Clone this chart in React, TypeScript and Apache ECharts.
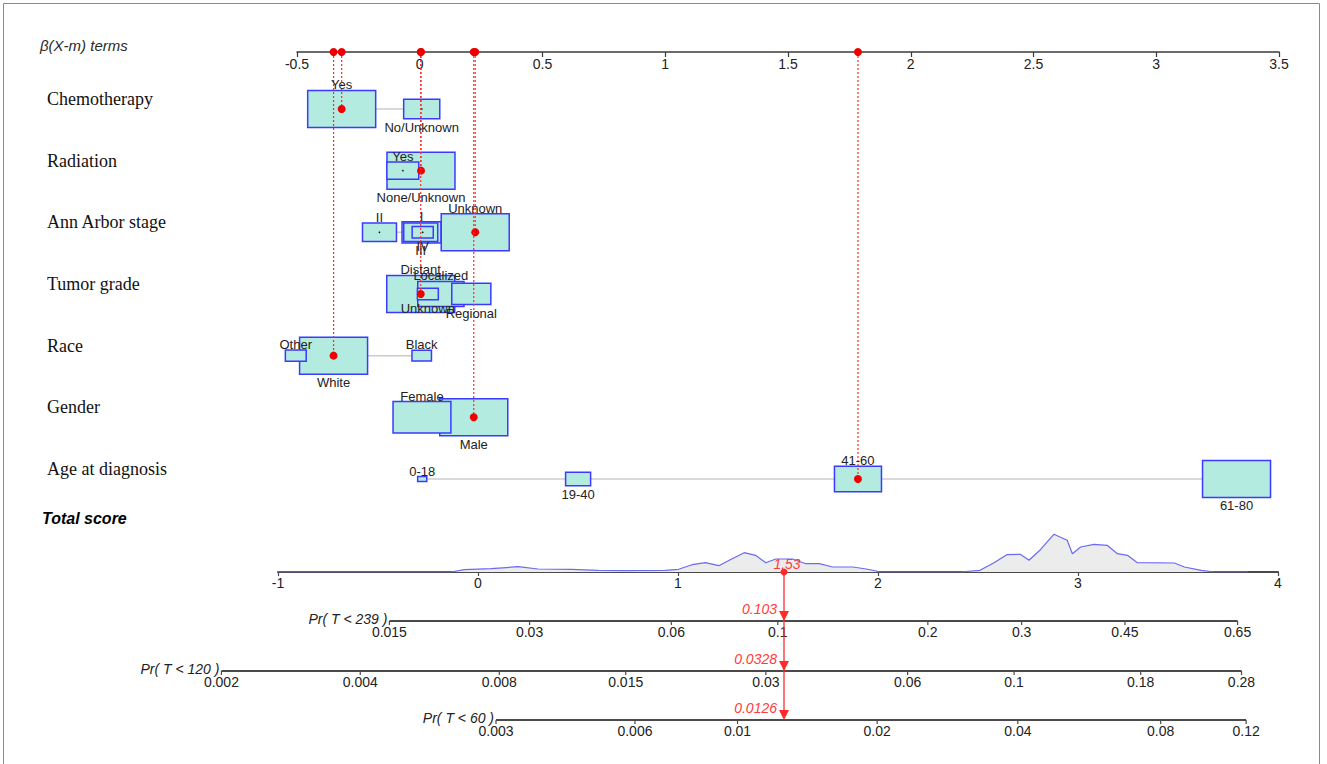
import React, { useEffect, useRef } from "react";
import * as echarts from "echarts";

// ---------------- data ----------------
const rowNames = ["Chemotherapy", "Radiation", "Ann Arbor stage", "Tumor grade", "Race", "Gender", "Age at diagnosis"];

const chemoLevels = ["Yes", "No/Unknown"];
const chemoBeta = [-0.318, 0.008];
const chemoFreq = [78, 22];

const radiationLevels = ["Yes", "None/Unknown"];
const radiationBeta = [-0.069, 0.005];
const radiationFreq = [18, 82];

const stageLevels = ["I", "II", "III", "IV", "Unknown"];
const stageBeta = [0.007, -0.164, 0.004, 0.012, 0.226];
const stageFreq = [17, 13, 13, 5, 52];

const gradeLevels = ["Distant", "Localized", "Regional", "Unknown"];
const gradeBeta = [0.004, 0.086, 0.21, 0.033];
const gradeFreq = [53, 24.5, 17.5, 5];

const raceLevels = ["Black", "Other", "White"];
const raceBeta = [0.008, -0.505, -0.351];
const raceFreq = [7, 8, 85];

const genderLevels = ["Female", "Male"];
const genderBeta = [0.009, 0.22];
const genderFreq = [42, 58];

const ageLevels = ["0-18", "19-40", "41-60", "61-80"];
const ageBeta = [0.01, 0.645, 1.785, 3.327];
const ageFreq = [1.1, 8.3, 29.3, 61.3];

const selectedLevels = ["Yes", "None/Unknown", "Unknown", "Distant", "White", "Male", "41-60"];

const totalScore = 1.53;

const densityScore = [-1.057, -0.704, -0.135, -0.068, 0.066, 0.2, 0.3, 0.467, 0.6, 0.735, 0.936, 1.003, 1.07, 1.137, 1.204, 1.271, 1.331, 1.388, 1.439, 1.489, 1.572, 1.64, 1.706, 1.774, 1.874, 1.941, 1.991, 2.008, 2.376, 2.41, 2.51, 2.578, 2.644, 2.711, 2.755, 2.812, 2.879, 2.946, 2.972, 3.013, 3.08, 3.146, 3.197, 3.247, 3.297, 3.482, 3.532, 3.616, 3.683, 3.85];
const densityHeight = [0, 0, 0, 2.3, 3.3, 5.3, 3, 2.7, 1.7, 1.3, 1.7, 2.7, 7.3, 9.3, 6.3, 13.3, 19.3, 16.7, 9.3, 13, 13, 8.3, 8.3, 5, 5, 3, 1, 0, 0, 0, 1.7, 9, 17.3, 17.7, 11.7, 22.3, 37.7, 31.7, 18.3, 25, 27.7, 26.7, 18.3, 16.7, 9.3, 9, 5, 1.7, 0, 0];

const probTimes = [239, 120, 60];
const probAtScore = [0.103, 0.0328, 0.0126];
const probTicks239 = [0.015, 0.03, 0.06, 0.1, 0.2, 0.3, 0.45, 0.65];
const probTicks120 = [0.002, 0.004, 0.008, 0.015, 0.03, 0.06, 0.1, 0.18, 0.28];
const probTicks60 = [0.003, 0.006, 0.01, 0.02, 0.04, 0.08, 0.12];

// ---------------- layout / style ----------------
const SANS = "'Liberation Sans', Arial, sans-serif";
const SERIF = "'Liberation Serif', 'Times New Roman', serif";
const Y_MIN = -0.924;
const Y_MAX = 6.665;
const BOX_W = 68;
const BOX_H = 37;
const PR_OFFSETS = [49, 99, 148];
const RED = "#ff2a2a";

const rows = [
  { levels: chemoLevels, beta: chemoBeta, freq: chemoFreq },
  { levels: radiationLevels, beta: radiationBeta, freq: radiationFreq },
  { levels: stageLevels, beta: stageBeta, freq: stageFreq },
  { levels: gradeLevels, beta: gradeBeta, freq: gradeFreq },
  { levels: raceLevels, beta: raceBeta, freq: raceFreq },
  { levels: genderLevels, beta: genderBeta, freq: genderFreq },
  { levels: ageLevels, beta: ageBeta, freq: ageFreq },
];

type Box = { row: number; beta: number; w: number; h: number; label: string; above: boolean; freq: number };
const boxes: Box[] = [];
rows.forEach((r, ri) => {
  const maxF = Math.max(...r.freq);
  const order = r.beta.map((b, i) => i).sort((a, b) => r.beta[a] - r.beta[b]);
  const rank: number[] = [];
  order.forEach((idx, k) => (rank[idx] = k));
  const list: Box[] = r.levels.map((lv, i) => {
    const s = Math.sqrt(r.freq[i] / maxF);
    return { row: ri, beta: r.beta[i], w: BOX_W * s, h: BOX_H * s, label: lv, above: rank[i] % 2 === 0, freq: r.freq[i] };
  });
  list.sort((a, b) => b.freq - a.freq);
  boxes.push(...list);
});

const selected = rows.map((r, ri) => {
  const i = r.levels.indexOf(selectedLevels[ri]);
  return { row: ri, beta: r.beta[i] };
});

const probTickSets = [probTicks239, probTicks120, probTicks60];
const probAxes = probTimes.map((tm, k) => {
  const H0 = -Math.log(1 - probAtScore[k]) / Math.exp(totalScore);
  const toScore = (p: number) => Math.log(-Math.log(1 - p) / H0);
  return { title: `Pr( T < ${tm} )`, ticks: probTickSets[k], scores: probTickSets[k].map(toScore) };
});

function buildOption(): any {
  return {
    animation: false,
    backgroundColor: "#ffffff",
    grid: [
      { left: 297, top: 52, width: 982, height: 468, containLabel: false, outerBoundsMode: "none" },
      { left: 278, top: 532, width: 1000, height: 40, containLabel: false, outerBoundsMode: "none" },
    ],
    xAxis: [
      {
        gridIndex: 0, type: "value", position: "top", min: -0.5, max: 3.5, interval: 0.5,
        axisLine: { show: true, onZero: false, lineStyle: { color: "#3a3a3a", width: 1.5 } },
        axisTick: { show: true, inside: true, length: 5, lineStyle: { color: "#3a3a3a", width: 1.2 } },
        axisLabel: { inside: true, margin: 5, fontSize: 14, fontFamily: SANS, color: "#222", showMinLabel: true, showMaxLabel: true },
        splitLine: { show: false },
      },
      {
        gridIndex: 1, type: "value", position: "bottom", min: -1, max: 4, interval: 1,
        axisLine: { show: true, onZero: false, lineStyle: { color: "#4a4a4a", width: 2 } },
        axisTick: { show: true, length: 4, lineStyle: { color: "#4a4a4a", width: 1.2 } },
        axisLabel: { margin: 4, fontSize: 14, fontFamily: SANS, color: "#222", showMinLabel: true, showMaxLabel: true },
        splitLine: { show: false },
      },
    ],
    yAxis: [
      { gridIndex: 0, type: "value", min: Y_MIN, max: Y_MAX, inverse: true, show: false },
      { gridIndex: 1, type: "value", min: 0, max: 40, show: false },
    ],
    graphic: [
      { type: "rect", silent: true, shape: { x: 3.5, y: 3.5, width: 1316, height: 800 }, style: { fill: "transparent", stroke: "#8a8a8a", lineWidth: 1 } },
      { type: "text", x: 40, y: 45, style: { text: "β(X-m) terms", fontSize: 15, fontStyle: "italic", fontFamily: SANS, fill: "#2a2a2a", verticalAlign: "middle" } },
      { type: "text", x: 42, y: 518, style: { text: "Total score", fontSize: 16, fontStyle: "italic", fontWeight: "bold", fontFamily: SANS, fill: "#000", verticalAlign: "middle" } },
    ],
    series: [
      // row labels
      {
        type: "custom", xAxisIndex: 0, yAxisIndex: 0, clip: false, z: 2,
        data: rowNames.map((n, i) => [-0.5, i]),
        renderItem: (params: any, api: any) => {
          const c = api.coord([-0.5, params.dataIndex]);
          return { type: "text", style: { text: rowNames[params.dataIndex], x: 47, y: c[1] - 10, fontSize: 18, fontFamily: SERIF, fill: "#111", verticalAlign: "middle", align: "left" } };
        },
      },
      // connectors
      {
        type: "custom", xAxisIndex: 0, yAxisIndex: 0, clip: false, z: 2,
        data: rows.map((r, i) => [Math.min(...r.beta), i]),
        renderItem: (params: any, api: any) => {
          const r = rows[params.dataIndex];
          const a = api.coord([Math.min(...r.beta), params.dataIndex]);
          const b = api.coord([Math.max(...r.beta), params.dataIndex]);
          return { type: "line", shape: { x1: a[0], y1: a[1], x2: b[0], y2: b[1] }, style: { stroke: "#cccccc", lineWidth: 1.5 } };
        },
      },
      // boxes
      {
        type: "custom", xAxisIndex: 0, yAxisIndex: 0, clip: false, z: 3,
        data: boxes.map((b) => [b.beta, b.row]),
        renderItem: (params: any, api: any) => {
          const b = boxes[params.dataIndex];
          const c = api.coord([b.beta, b.row]);
          return {
            type: "group",
            children: [
              { type: "rect", shape: { x: c[0] - b.w / 2, y: c[1] - b.h / 2, width: b.w, height: b.h }, style: { fill: "#b3ebe0", stroke: "#3b3bff", lineWidth: 1.5 } },
              { type: "circle", shape: { cx: c[0], cy: c[1], r: 0.8 }, style: { fill: "#000" } },
            ],
          };
        },
      },
      // dotted red lines + dots
      {
        type: "custom", xAxisIndex: 0, yAxisIndex: 0, clip: false, z: 4,
        data: selected.map((s) => [s.beta, s.row]),
        renderItem: (params: any, api: any) => {
          const s = selected[params.dataIndex];
          const top = api.coord([s.beta, Y_MIN]);
          const c = api.coord([s.beta, s.row]);
          return {
            type: "group",
            children: [
              { type: "line", shape: { x1: top[0], y1: top[1], x2: c[0], y2: c[1] }, style: { stroke: RED, lineWidth: 1.2, lineDash: [2, 2] } },
              { type: "circle", shape: { cx: c[0], cy: c[1], r: 4 }, style: { fill: "#ee0000" } },
              { type: "circle", shape: { cx: top[0], cy: top[1], r: 4 }, style: { fill: "#ee0000" } },
            ],
          };
        },
      },
      // box labels
      {
        type: "custom", xAxisIndex: 0, yAxisIndex: 0, clip: false, z: 5,
        data: boxes.map((b) => [b.beta, b.row]),
        renderItem: (params: any, api: any) => {
          const b = boxes[params.dataIndex];
          const c = api.coord([b.beta, b.row]);
          const y = b.above ? c[1] - b.h / 2 + 1 : c[1] + b.h / 2 + 2;
          return { type: "text", style: { text: b.label, x: c[0], y, fontSize: 13, fontFamily: SANS, fill: "#222", align: "center", verticalAlign: b.above ? "bottom" : "top" } };
        },
      },
      // density
      {
        type: "line", xAxisIndex: 1, yAxisIndex: 1, showSymbol: false, symbol: "none", z: 1,
        data: densityScore.map((s, i) => [s, densityHeight[i]]),
        lineStyle: { color: "#6a6af2", width: 1.2 },
        areaStyle: { color: "#ececec", opacity: 1 },
      },
      // probability axes
      {
        type: "custom", xAxisIndex: 1, yAxisIndex: 1, clip: false, z: 3,
        data: probAxes.map((a) => [a.scores[0], 0]),
        renderItem: (params: any, api: any) => {
          const k = params.dataIndex;
          const a = probAxes[k];
          const base = api.coord([0, 0])[1];
          const y = base + PR_OFFSETS[k];
          const xs = a.scores.map((s) => api.coord([s, 0])[0]);
          const children: any[] = [
            { type: "line", shape: { x1: xs[0], y1: y, x2: xs[xs.length - 1], y2: y }, style: { stroke: "#4a4a4a", lineWidth: 2 } },
            { type: "text", style: { text: a.title, x: xs[0] - 2, y: y - 2, fontSize: 14, fontStyle: "italic", fontFamily: SANS, fill: "#222", align: "right", verticalAlign: "middle" } },
          ];
          xs.forEach((x, i) => {
            children.push({ type: "line", shape: { x1: x, y1: y, x2: x, y2: y + 4 }, style: { stroke: "#4a4a4a", lineWidth: 1.2 } });
            children.push({ type: "text", style: { text: String(a.ticks[i]), x, y: y + 4, fontSize: 14, fontFamily: SANS, fill: "#222", align: "center", verticalAlign: "top" } });
          });
          return { type: "group", children };
        },
      },
      // red annotation
      {
        type: "custom", xAxisIndex: 1, yAxisIndex: 1, clip: false, z: 6,
        data: [[totalScore, 0]],
        renderItem: (params: any, api: any) => {
          const c = api.coord([totalScore, 0]);
          const x = c[0];
          const y0 = c[1];
          const children: any[] = [
            { type: "line", shape: { x1: x, y1: y0, x2: x, y2: y0 + PR_OFFSETS[PR_OFFSETS.length - 1] - 4 }, style: { stroke: RED, lineWidth: 1.3 } },
            { type: "circle", shape: { cx: x, cy: y0, r: 3.5 }, style: { fill: RED } },
            { type: "text", style: { text: String(totalScore), x: x + 3, y: y0 - 8, fontSize: 14, fontStyle: "italic", fontFamily: SANS, fill: "#ff3b3b", align: "center", verticalAlign: "middle" } },
          ];
          PR_OFFSETS.forEach((off, k) => {
            const yy = y0 + off;
            children.push({ type: "polygon", shape: { points: [[x - 5, yy - 10], [x + 5, yy - 10], [x, yy]] }, style: { fill: RED } });
            children.push({ type: "text", style: { text: String(probAtScore[k]), x: x - 7, y: yy - 12, fontSize: 14, fontStyle: "italic", fontFamily: SANS, fill: "#ff3b3b", align: "right", verticalAlign: "middle" } });
          });
          return { type: "group", children };
        },
      },
    ],
  };
}

export default function App() {
  const ref = useRef<HTMLDivElement>(null);
  useEffect(() => {
    if (!ref.current) return;
    const chart = echarts.init(ref.current, null, { renderer: "svg" });
    chart.setOption(buildOption());
    return () => chart.dispose();
  }, []);
  return <div ref={ref} style={{ position: "fixed", left: 0, top: 0, width: 1327, height: 764, background: "#fff" }} />;
}
